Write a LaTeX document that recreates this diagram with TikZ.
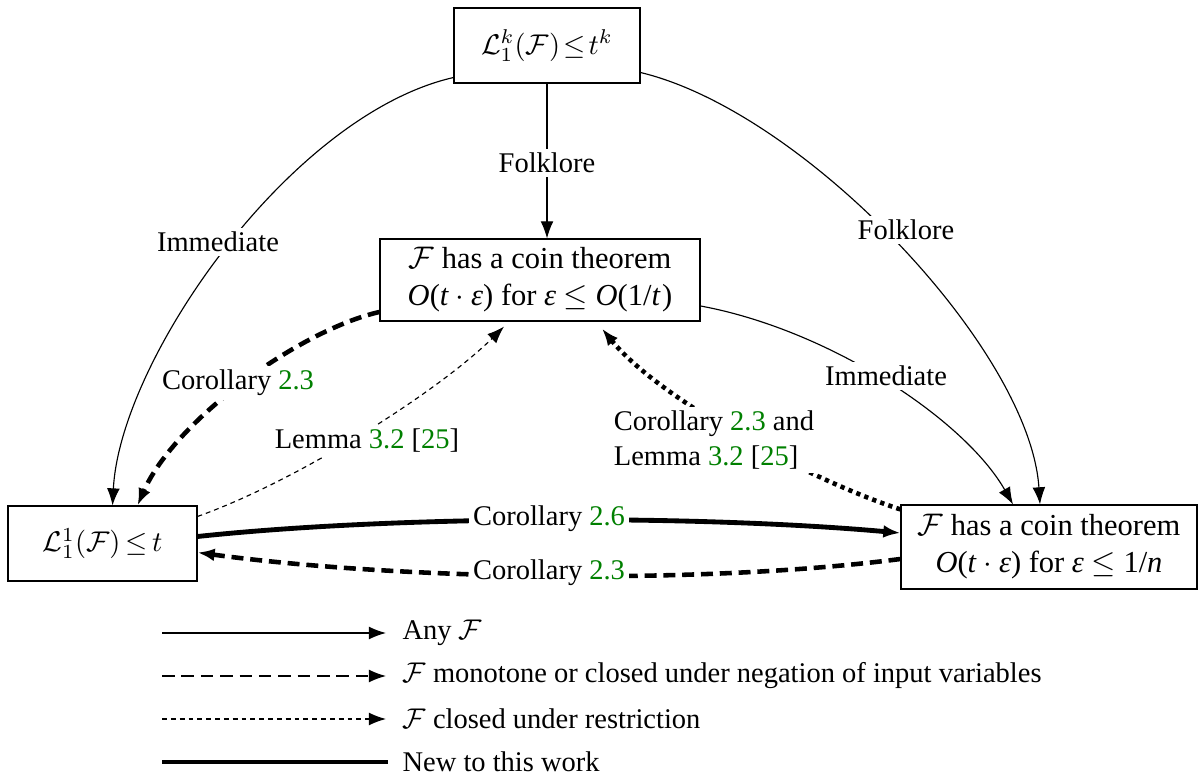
\documentclass[tikz,border=0pt]{standalone}
\usepackage{fontspec}
\setmainfont{Liberation Serif}
\usetikzlibrary{arrows.meta,calc}
\definecolor{refgreen}{RGB}{0,128,0}
\newcommand{\gr}[1]{\textcolor{refgreen}{#1}}
\newcommand{\ti}[1]{\textit{#1}}
\begin{document}
\begin{tikzpicture}[x=0.3509pt,y=-0.3509pt,
  box/.style={draw,line width=0.4pt,inner sep=0pt,align=center},
  bigbox/.style={box,font=\fontsize{10.7}{13}\selectfont},
  lbl/.style={fill=white,inner sep=1.5pt},
  tip/.style={-{Latex[length=6pt,width=4.5pt]}},
  anyF/.style={tip,line width=0.4pt},
  mono/.style={tip,line width=1.6pt,dash pattern=on 4.2pt off 2.4pt},
  restr/.style={tip,line width=0.4pt,dash pattern=on 1.7pt off 1.4pt},
  newdot/.style={tip,line width=1.6pt,dash pattern=on 1.5pt off 1.5pt},
  newsolid/.style={tip,line width=1.7pt},
  leg/.style={anchor=west,inner sep=0pt}]
\useasboundingbox (0,0) rectangle (1203,779);

% nodes
\node[box,minimum width=65.3pt,minimum height=26.3pt] (top) at (547,45.5)
  {$\mathcal{L}_1^k(\mathcal{F})\mskip2mu{\le}\mskip2mu t^k$};
\node[bigbox,minimum width=112.3pt,minimum height=28.8pt] (mid) at (540,280)
  {$\mathcal{F}$ has a coin theorem\\[0pt]
   \ti{O}(\ti{t}\:$\cdot$\:\ti{ε}) for \ti{ε} $\le$ \ti{O}(1/\ti{t}\kern0.5pt)};
\node[box,minimum width=66.3pt,minimum height=26.3pt] (left) at (102.5,543.5)
  {$\mathcal{L}_1^1(\mathcal{F})\mskip3mu{\le}\mskip3mu t$};
\node[bigbox,minimum width=103.9pt,minimum height=29.5pt] (right) at (1049,547)
  {$\mathcal{F}$ has a coin theorem\\[0pt]
   \ti{O}(\ti{t}\:$\cdot$\:\ti{ε}) for \ti{ε} $\le$ 1/\ti{n}};

% edges
\draw[anyF] (top.south) -- (top.south |- mid.north);
\draw[anyF] ($(top.south west)+(0,-6)$) .. controls (290,115) and (120,360) .. ($(left.north)+(10,0)$);
\draw[anyF] ($(top.south east)+(0,-11)$) .. controls (805,112) and (1030,350) .. ($(right.north)+(-9,0)$);
\draw[anyF] ($(mid.east)+(0,26)$) .. controls (830,330) and (965,420) .. ($(right.north)+(-36,0)$);
\draw[mono] ($(mid.west)+(0,32)$) .. controls (300,330) and (175,420) .. ($(left.north)+(35,0)$);
\draw[restr] ($(left.north east)+(0,11)$) .. controls (300,480) and (440,390) .. ($(mid.south)+(-36,5)$);
\draw[newdot] ($(right.north west)+(0,5)$) .. controls (810,480) and (660,400) .. ($(mid.south)+(62,7)$);
\draw[newsolid] ($(left.east)+(0,-7)$) .. controls (400,515) and (700,515) .. ($(right.west)+(0,-14)$);
\draw[mono] ($(right.west)+(0,12)$) .. controls (700,585) and (400,580) .. ($(left.east)+(0,9)$);

% edge labels
\node[lbl] (l1) at (547,163) {Folklore};
\node[lbl] (l2) at (218,242) {Immediate};
\node[lbl] (l3) at (906,230) {Folklore};
\node[lbl] (l4) at (886,376) {Immediate};
\node[lbl] (l5) at (238,383) {Corollary \gr{2.3}};
\node[lbl] (l6) at (367,441) {Lemma \gr{3.2} [\gr{25}]};
\node[lbl,align=left] (l7) at (714,440) {Corollary \gr{2.3} and\\Lemma \gr{3.2} [\gr{25}]};
\node[lbl] (l8) at (549,519) {Corollary \gr{2.6}};
\node[lbl] (l9) at (549,573) {Corollary \gr{2.3}};

% legend
\coordinate (a1) at (162,633); \coordinate (b1) at (386,633);
\coordinate (a2) at (162,676); \coordinate (b2) at (386,676);
\coordinate (a3) at (162,719); \coordinate (b3) at (386,719);
\coordinate (a4) at (162,762); \coordinate (b4) at (388,762);
\draw[anyF] (a1) -- (b1);
\draw[tip,line width=0.4pt,dash pattern=on 4.4pt off 2.4pt] (a2) -- (b2);
\draw[restr] (a3) -- (b3);
\draw[line width=1.7pt] (a4) -- (b4);
\node[leg] (t1) at (402,633) {Any $\mathcal{F}$};
\node[leg] (t2) at (402,676) {$\mathcal{F}$ monotone or closed under negation of input variables};
\node[leg] (t3) at (402,719) {$\mathcal{F}$ closed under restriction};
\node[leg] (t4) at (402,762) {New to this work};
\end{tikzpicture}
\end{document}
